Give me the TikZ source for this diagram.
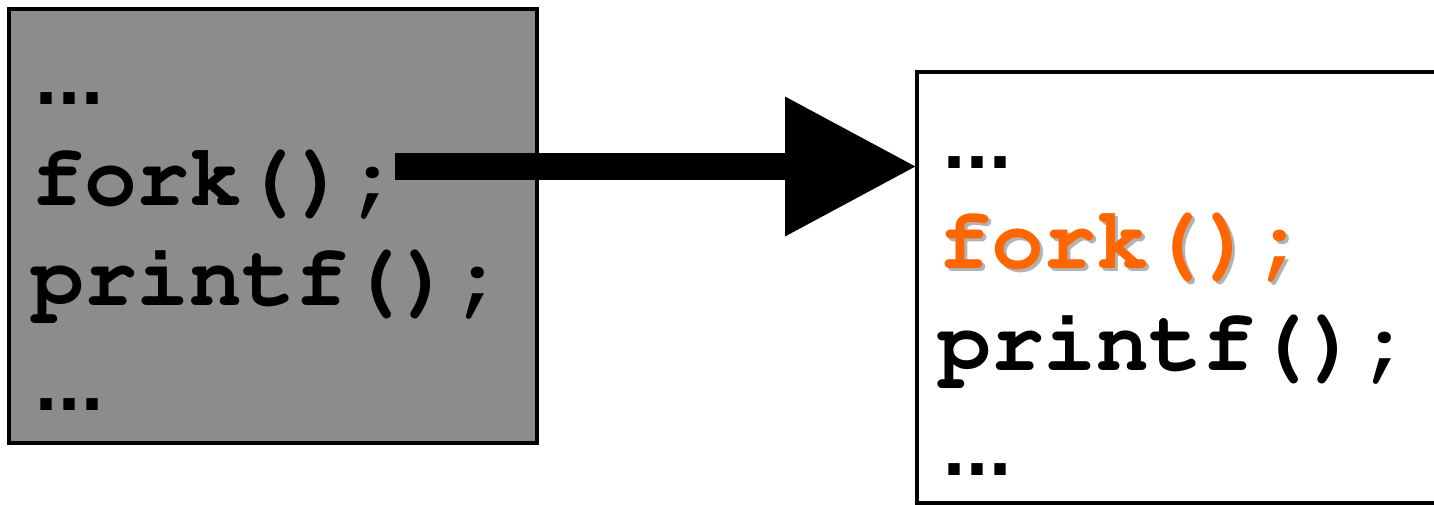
\documentclass[tikz,border=0pt]{standalone}
\usepackage[T1,TU]{fontenc}
\usepackage{fontspec}
\newfontfamily\dotsfont{Liberation Mono}
\usetikzlibrary{arrows.meta}
\definecolor{boxgray}{RGB}{140,140,140}
\definecolor{forkorange}{RGB}{255,102,0}
\definecolor{shadowgray}{RGB}{178,178,178}
\newcommand{\codefont}{\fontencoding{T1}\fontfamily{pcr}\fontseries{b}\fontsize{88}{100}\selectfont}
\newcommand{\skipped}{{\dotsfont\bfseries\fontsize{80}{100}\selectfont .\kern-24.7pt.\kern-24.7pt.}}
\tikzset{>/.tip={Triangle[length=132pt,width=132pt]},
  code/.style={anchor=base west, inner sep=0pt, font=\codefont},
  procbox/.style={draw, line width=4pt, anchor=north west, inner sep=0pt, outer sep=0pt}}

\begin{document}
\begin{tikzpicture}[x=1pt,y=-1pt]
\useasboundingbox (0,0) rectangle (1434,505);
\clip (0,0) rectangle (1434,505);
\node (parent) [procbox, fill=boxgray, minimum width=528pt, minimum height=434pt] at (9,9) {};
\node (child) [procbox, fill=white, minimum width=600pt, minimum height=431pt] at (917,72) {};

\coordinate (from) at (395,166.5);
\coordinate (to) at (917,166.5);
\draw[->, line width=27pt] (from) -- (to);

% parent process
\node (p-dots1) [code] at (22,105) {\skipped};
\node (p-fork) [code] at (31,205) {fork();};
\node (p-printf) [code] at (31,305) {printf();};
\node (p-dots2) [code] at (22,410) {\skipped};

% child process
\node (c-dots1) [code] at (930,169) {\skipped};
\node (c-shadow) [code, text=shadowgray] at (941,271) {fork();};
\node (c-fork) [code, text=forkorange] at (938,268) {fork();};
\node (c-printf) [code] at (938,370) {printf();};
\node (c-dots2) [code] at (930,475) {\skipped};
\end{tikzpicture}
\end{document}
